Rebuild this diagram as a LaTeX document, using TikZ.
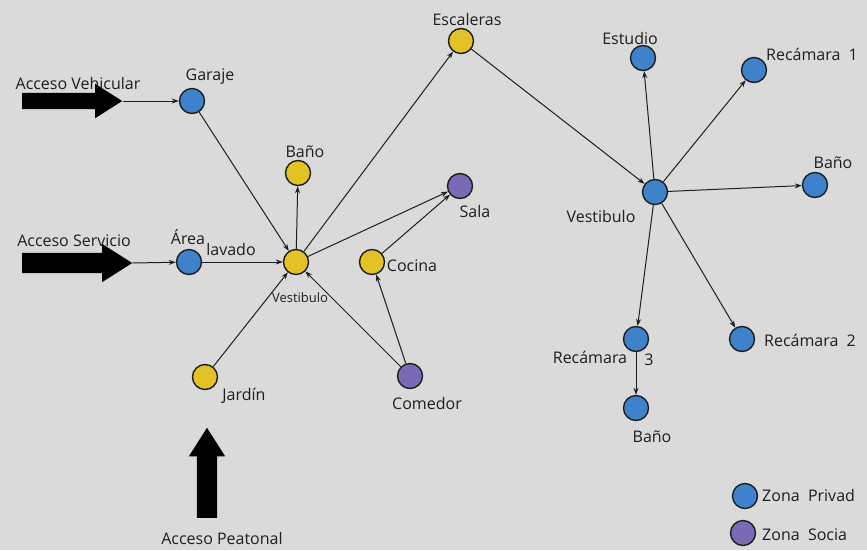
\documentclass[tikz,border=0pt]{standalone}
\usepackage{fontspec}
\setmainfont{Open Sans}
\usetikzlibrary{arrows.meta,shapes.arrows}
\definecolor{bg}{HTML}{DADADA}
\definecolor{priv}{HTML}{3E82CC}
\definecolor{serv}{HTML}{E2C224}
\definecolor{soc}{HTML}{7A6AB4}
\definecolor{ink}{HTML}{1E1E1E}
\begin{document}
\begin{tikzpicture}[x=1pt,y=-1pt,
 room/.style={circle,draw=ink,line width=1.4pt,minimum size=25pt,inner sep=0pt},
 pv/.style={room,fill=priv}, sv/.style={room,fill=serv}, so/.style={room,fill=soc},
 lbl/.style={font=\fontsize{16}{18}\selectfont,text=ink,inner sep=0pt},
 link/.style={draw=ink,line width=1pt,-{Stealth[length=7pt,width=5pt]}},
 bigarrow/.style={single arrow,fill=black,draw=none,single arrow tip angle=65,single arrow head indent=0pt}]
\fill[bg] (0,0) rectangle (867,550);
\useasboundingbox (0,0) rectangle (867,550);
% big access arrows
\node[bigarrow,inner xsep=0pt,inner ysep=8pt,minimum height=100pt,single arrow head extend=9pt,anchor=tail] (av) at (22,101) {};
\node[bigarrow,inner xsep=0pt,inner ysep=10pt,minimum height=110pt,single arrow head extend=9pt,anchor=tail] (as) at (22,263) {};
\node[bigarrow,inner xsep=10pt,inner ysep=0pt,minimum height=90pt,single arrow head extend=8pt,shape border rotate=90,anchor=tail] (ap) at (207,518) {};
% rooms
\node[pv] (gar) at (192,101) {};
\node[pv] (are) at (189,262) {};
\node[sv] (vl) at (296,262) {};
\node[sv] (bl) at (298,173) {};
\node[sv] (esc) at (461,41) {};
\node[so] (sal) at (460,186) {};
\node[sv] (coc) at (372,262) {};
\node[sv] (jar) at (205,377) {};
\node[so] (com) at (410,376) {};
\node[pv] (vr) at (655,192) {};
\node[pv] (est) at (643,58) {};
\node[pv] (r1) at (754,70) {};
\node[pv] (br) at (815,185) {};
\node[pv] (r2) at (742,339) {};
\node[pv] (r3) at (636,339) {};
\node[pv] (bb) at (636,408) {};
\node[pv] (lg1) at (745,496) {};
\node[so] (lg2) at (743,533) {};
% connectors
\draw[link] (av.tip) -- (gar);
\draw[link] (as.tip) -- (are);
\draw[link] (gar) -- (vl);
\draw[link] (are) -- (vl);
\draw[link] (vl) -- (bl);
\draw[link] (vl) -- (esc);
\draw[link] (vl) -- (sal);
\draw[link] (coc) -- (sal);
\draw[link] (jar) -- (vl);
\draw[link] (com) -- (vl);
\draw[link] (com) -- (coc);
\draw[link] (esc) -- (vr);
\draw[link] (vr) -- (est);
\draw[link] (vr) -- (r1);
\draw[link] (vr) -- (br);
\draw[link] (vr) -- (r2);
\draw[link] (vr) -- (r3);
\draw[link] (r3) -- (bb);
% labels
\node[lbl] (t1) at (78,83) {Acceso Vehicular};
\node[lbl] (t2) at (210,77) {Garaje};
\node[lbl] (t3) at (74,241) {Acceso Servicio};
\node[lbl] (t4) at (188,237) {Área};
\node[lbl] (t5) at (231,249) {lavado};
\node[lbl] (t6) at (305,152) {Baño};
\node[lbl] (t7) at (467,19) {Escaleras};
\node[lbl] (t8) at (475,211) {Sala};
\node[lbl] (t9) at (412,266) {Cocina};
\node[lbl,font=\fontsize{13}{15}\selectfont] (t10) at (300,298) {Vestibulo};
\node[lbl] (t11) at (244,396) {Jardín};
\node[lbl] (t12) at (427,403) {Comedor};
\node[lbl] (t13) at (630,38) {Estudio};
\node[lbl] (t14) at (812,54) {Recámara\ \ 1};
\node[lbl] (t15) at (833,163) {Baño};
\node[lbl] (t16) at (601,216) {Vestibulo};
\node[lbl] (t17) at (810,340) {Recámara\ \ 2};
\node[lbl] (t18) at (590,357) {Recámara};
\node[lbl] (t19) at (649,360) {3};
\node[lbl] (t20) at (652,437) {Baño};
\node[lbl,anchor=west] (t21) at (762,495) {Zona\ \ Privad};
\node[lbl,anchor=west] (t22) at (762,535) {Zona\ \ Socia};
\node[lbl] (t23) at (222,538) {Acceso Peatonal};
\end{tikzpicture}
\end{document}
